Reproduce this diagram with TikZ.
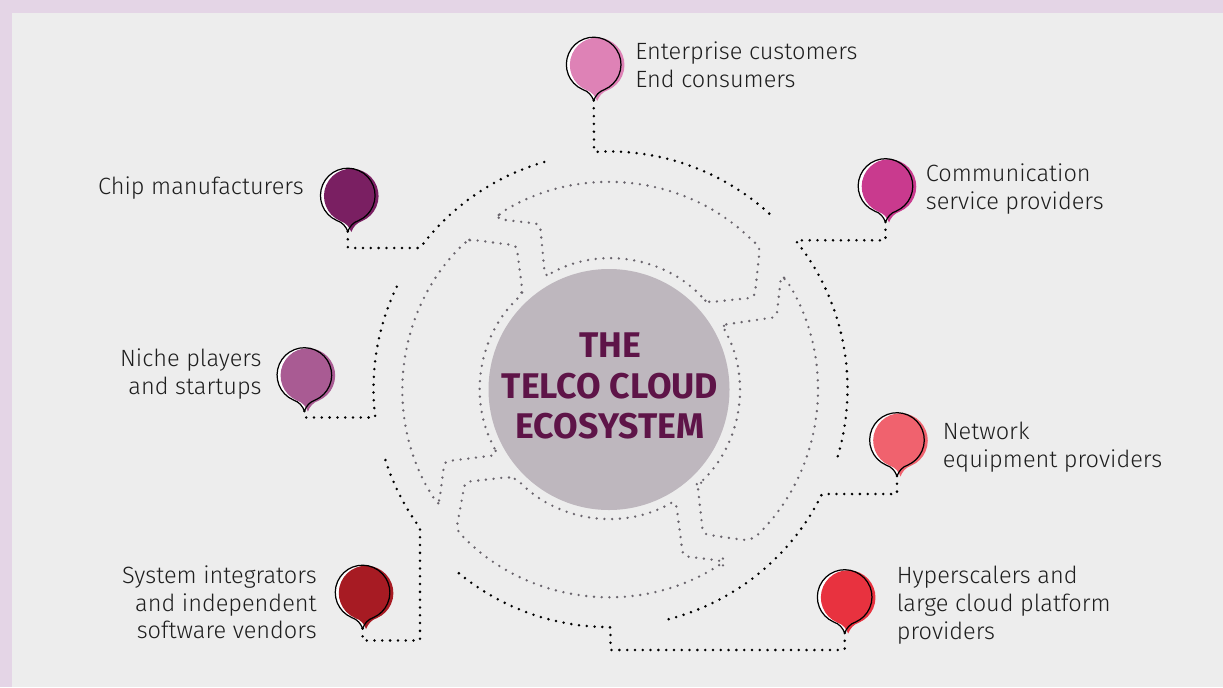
\documentclass[tikz,border=0pt]{standalone}
\usepackage{fontspec}
\setmainfont{Fira Sans}[UprightFont=* Light,BoldFont=* Bold]
\usetikzlibrary{arrows.meta}
\definecolor{framepurple}{HTML}{E4D5E6}
\definecolor{panelgrey}{HTML}{EDEDED}
\definecolor{hubgrey}{HTML}{BEB7BE}
\definecolor{hubtitle}{HTML}{5E1448}
\definecolor{ringgrey}{HTML}{6A656D}
\definecolor{labeltext}{HTML}{1E1E1E}
\definecolor{pinent}{HTML}{DE82B6}
\definecolor{pincomm}{HTML}{C93A8E}
\definecolor{pinnet}{HTML}{F0626E}
\definecolor{pinhyper}{HTML}{E8323F}
\definecolor{pinsys}{HTML}{A71B23}
\definecolor{pinniche}{HTML}{A95B93}
\definecolor{pinchip}{HTML}{7A1F62}
\tikzset{
	pics/pin/.style={code={
		\fill[white] (0,36) .. controls (-2,31) and (-5,27) .. (-11,25) arc[start angle=113.7,end angle=426.3,radius=27.3] .. controls (5,27) and (2,31) .. cycle;
		\fill[#1,shift={(3.5,0.5)}] (0,36) .. controls (-2,31) and (-5,27) .. (-11,25) arc[start angle=113.7,end angle=426.3,radius=27.3] .. controls (5,27) and (2,31) .. cycle;
		\draw[black,line width=0.7pt] (0,36) .. controls (-2,31) and (-5,27) .. (-11,25) arc[start angle=113.7,end angle=426.3,radius=27.3] .. controls (5,27) and (2,31) .. cycle;
		\coordinate (-tip) at (0,36);
	}},
	wire/.style={black,line width=1.6pt,line cap=round,dash pattern=on 0pt off 4.44pt,rounded corners=0.5pt},
	shell/.style={ringgrey,line width=1.5pt,line cap=round,dash pattern=on 0pt off 4.4pt,rounded corners=2.5pt},
	callout/.style={font=\fontsize{13.4pt}{15.9pt}\selectfont,text=labeltext,inner sep=0pt},
}
\begin{document}
\begin{tikzpicture}[x=0.02cm,y=-0.02cm]
	\useasboundingbox (0,0) rectangle (1223,687);
	\fill[framepurple] (0,0) rectangle (1223,687);
	\fill[panelgrey] (12,13) rectangle (1223,687);
	\node[circle,fill=hubgrey,minimum size=241*0.02cm,inner sep=0pt] (hub) at (609,389.5) {};
	\node[align=center,inner sep=0pt,text=hubtitle,font=\fontsize{20.3pt}{23.2pt}\selectfont\bfseries] (hubname) at (610,386) {THE\\TELCO CLOUD\\ECOSYSTEM};

	\draw[shell] (497,219) -- (499,214) arc[start angle=-122,end angle=-46,radius=207] -- (760,247) -- (754.5,297.5) -- (707,302.5) -- (703,298) arc[start angle=-44.2,end angle=-116.9,radius=129.5] -- (545,277) -- (540,224) -- cycle;
	\draw[shell] (497,455) -- (495,449) arc[start angle=152.4,end angle=226.2,radius=129] -- (522.5,292) -- (516.5,245.5) -- (470,239.5) -- (466.7,241) arc[start angle=226.3,end angle=147.6,radius=206] -- (439,504) -- (444.5,461.5) -- cycle;
	\draw[shell] (723,561) -- (723,562.5) arc[start angle=56.7,end angle=137.4,radius=207.5] -- (465,482) -- (509,477) -- (516.7,479) arc[start angle=135.9,end angle=59.6,radius=129.5] -- (677,510) -- (683,556) -- cycle;
	\draw[shell] (722,325) -- (776.5,317) -- (781,277) -- (785,278) arc[start angle=-32.4,end angle=45.5,radius=207.5] -- (747,540.5) -- (703,534) -- (697.5,484) -- (700,483) arc[start angle=45.8,end angle=-26.8,radius=130] -- cycle;

	\pic (ent) at (593.7,64.5) {pin=pinent};
	\pic (comm) at (885.5,186) {pin=pincomm};
	\pic (net) at (897,440) {pin=pinnet};
	\pic (hyper) at (844.7,597) {pin=pinhyper};
	\pic (sys) at (362.6,592.5) {pin=pinsys};
	\pic (niche) at (304.4,375) {pin=pinniche};
	\pic (chip) at (347.8,195.5) {pin=pinchip};

	\draw[wire] (ent-tip) -- (594,152) arc[start angle=-93.6,end angle=-46.8,radius=238];
	\draw[wire] (comm-tip) |- (795.5,240.3) arc[start angle=-38.6,end angle=17.6,radius=238];
	\draw[wire] (net-tip) |- (822,494) arc[start angle=26.2,end angle=76,radius=238];
	\draw[wire] (hyper-tip) |- (610.5,650) -- (610.5,627) arc[start angle=89.6,end angle=131,radius=236];
	\draw[wire] (sys-tip) |- (420,640.5) -- (420,528) arc[start angle=143.7,end angle=163.5,radius=235.5];
	\draw[wire] (niche-tip) |- (375.3,417.5) arc[start angle=173,end angle=206.5,radius=236];
	\draw[wire] (chip-tip) |- (420,248) arc[start angle=216.7,end angle=254.5,radius=237];

	\node[callout,anchor=north west,align=left] (entlabel) at (635,41) {Enterprise customers\\End consumers};
	\node[callout,anchor=north west,align=left] (commlabel) at (925.5,163) {Communication\\service providers};
	\node[callout,anchor=north west,align=left] (netlabel) at (942.5,422) {Network\\equipment providers};
	\node[callout,anchor=north west,align=left] (hyperlabel) at (896.5,566) {Hyperscalers and\\large cloud platform\\providers};
	\node[callout,anchor=north east,align=right] (syslabel) at (317,565) {System integrators\\and independent\\software vendors};
	\node[callout,anchor=north east,align=right] (nichelabel) at (262,348) {Niche players\\and startups};
	\node[callout,anchor=north east,align=right] (chiplabel) at (304,176) {Chip manufacturers};
\end{tikzpicture}
\end{document}
